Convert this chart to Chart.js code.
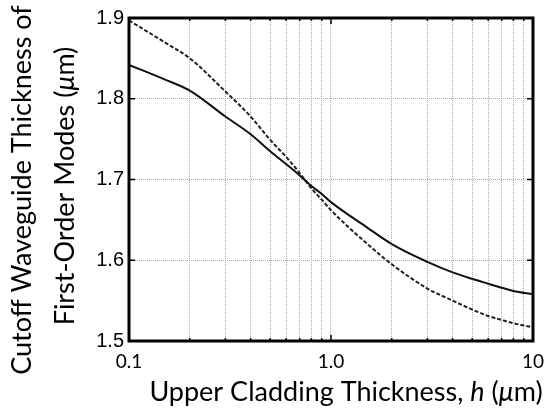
<!DOCTYPE html>
<html>
<head>
<meta charset="utf-8">
<script src="https://cdn.jsdelivr.net/npm/chart.js@4.4.1/dist/chart.umd.min.js"></script>
<style>
  html, body { margin: 0; padding: 0; background: #fff; }
  #wrap { width: 553px; height: 412px; position: relative; }
</style>
</head>
<body>
<div id="wrap"><canvas id="chart" width="553" height="412"></canvas></div>
<script>
// upper cladding thickness h (um)
const thickness = [0.1, 0.15, 0.2, 0.3, 0.4, 0.5, 0.6, 0.7, 0.8, 0.9, 1.0, 1.5, 2, 3, 4, 5, 6, 7, 8, 10];
// solid curve
const solidCutoff = [1.842, 1.824, 1.810, 1.778, 1.756, 1.735, 1.719, 1.705, 1.692, 1.682, 1.672, 1.641, 1.620, 1.598, 1.585, 1.577, 1.571, 1.566, 1.562, 1.558];
// dashed curve
const dashedCutoff = [1.897, 1.870, 1.850, 1.809, 1.778, 1.749, 1.728, 1.708, 1.689, 1.675, 1.662, 1.621, 1.595, 1.565, 1.550, 1.539, 1.531, 1.526, 1.522, 1.517];

const xGridValues = [0.1, 0.2, 0.3, 0.4, 0.5, 0.6, 0.7, 0.8, 0.9, 1, 2, 3, 4, 5, 6, 7, 8, 9, 10];
const xTickLabels = { 0.1: '0.1', 1: '1.0', 10: '10' };
const yTickValues = [1.5, 1.6, 1.7, 1.8, 1.9];

function toPoints(xs, ys) {
    return xs.map((x, i) => ({ x: x, y: ys[i] }));
}

// draws a line of text made of normal / italic pieces
function drawMixed(ctx, parts, size, family) {
    let total = 0;
    parts.forEach(p => {
        ctx.font = (p.italic ? 'italic ' : '') + size + 'px ' + family;
        p.w = ctx.measureText(p.t).width;
        total += p.w;
    });
    let x = -total / 2;
    parts.forEach(p => {
        ctx.font = (p.italic ? 'italic ' : '') + size + 'px ' + family;
        ctx.fillText(p.t, x, 0);
        x += p.w;
    });
}

const framePlugin = {
    id: 'frame',
    afterDatasetsDraw(chart) {
        const { ctx, chartArea: a, scales } = chart;
        ctx.save();
        ctx.strokeStyle = '#000';
        ctx.lineWidth = 1.5;
        // inner tick marks
        ctx.beginPath();
        xGridValues.forEach(v => {
            const px = scales.x.getPixelForValue(v);
            const len = xTickLabels[v] ? 6 : 3;
            ctx.moveTo(px, a.bottom); ctx.lineTo(px, a.bottom - len);
            ctx.moveTo(px, a.top); ctx.lineTo(px, a.top + len);
        });
        yTickValues.forEach(v => {
            const py = scales.y.getPixelForValue(v);
            ctx.moveTo(a.left, py); ctx.lineTo(a.left + 6, py);
            ctx.moveTo(a.right, py); ctx.lineTo(a.right - 6, py);
        });
        ctx.stroke();
        ctx.lineWidth = 3;
        ctx.strokeRect(a.left, a.top, a.right - a.left, a.bottom - a.top);
        ctx.restore();
    },
    afterDraw(chart) {
        const ctx = chart.ctx;
        const fam = 'Lato, "Open Sans", sans-serif';
        ctx.save();
        ctx.fillStyle = '#000';
        ctx.textBaseline = 'alphabetic';
        ctx.textAlign = 'left';

        ctx.save();
        ctx.translate(346, 401);
        drawMixed(ctx, [
            { t: 'Upper Cladding Thickness, ' },
            { t: 'h', italic: true },
            { t: ' (' },
            { t: '\u03BC', italic: true },
            { t: 'm)' }
        ], 27, fam);
        ctx.restore();

        ctx.save();
        ctx.translate(31, 190);
        ctx.rotate(-Math.PI / 2);
        drawMixed(ctx, [{ t: 'Cutoff Waveguide Thickness of' }], 27, fam);
        ctx.restore();

        ctx.save();
        ctx.translate(74, 186);
        ctx.rotate(-Math.PI / 2);
        drawMixed(ctx, [
            { t: 'First-Order Modes (' },
            { t: '\u03BC', italic: true },
            { t: 'm)' }
        ], 27, fam);
        ctx.restore();

        ctx.restore();
    }
};

new Chart(document.getElementById('chart'), {
    type: 'line',
    data: {
        datasets: [
            {
                label: 'solid',
                data: toPoints(thickness, solidCutoff),
                borderColor: '#111',
                borderWidth: 2,
                pointRadius: 0,
                cubicInterpolationMode: 'monotone',
                fill: false
            },
            {
                label: 'dashed',
                data: toPoints(thickness, dashedCutoff),
                borderColor: '#222',
                borderWidth: 2,
                borderDash: [4, 2],
                pointRadius: 0,
                cubicInterpolationMode: 'monotone',
                fill: false
            }
        ]
    },
    options: {
        responsive: false,
        animation: false,
        devicePixelRatio: 1,
        layout: { padding: { left: 0, top: 18, right: 14, bottom: 0 } },
        plugins: {
            legend: { display: false },
            tooltip: { enabled: false }
        },
        scales: {
            x: {
                type: 'logarithmic',
                min: 0.1,
                max: 10,
                afterBuildTicks(scale) {
                    scale.ticks = xGridValues.map(v => ({ value: v }));
                },
                afterFit(scale) { scale.height = 71; },
                ticks: {
                    autoSkip: false,
                    maxRotation: 0,
                    padding: 9,
                    color: '#000',
                    font: { family: 'Lato, "Open Sans", sans-serif', size: 19 },
                    callback: (v) => xTickLabels[v] || ''
                },
                grid: { color: '#a8a8a8', lineWidth: 1, drawTicks: false },
                border: { display: false, dash: [1, 1] }
            },
            y: {
                min: 1.5,
                max: 1.9,
                afterBuildTicks(scale) {
                    scale.ticks = yTickValues.map(v => ({ value: v }));
                },
                afterFit(scale) { scale.width = 129; },
                ticks: {
                    padding: 5,
                    color: '#000',
                    font: { family: '"Liberation Sans", Arial, sans-serif', size: 20 },
                    callback: (v) => v.toFixed(1)
                },
                grid: { color: '#a8a8a8', lineWidth: 1, drawTicks: false },
                border: { display: false, dash: [1, 1] }
            }
        }
    },
    plugins: [framePlugin]
});
</script>
</body>
</html>
